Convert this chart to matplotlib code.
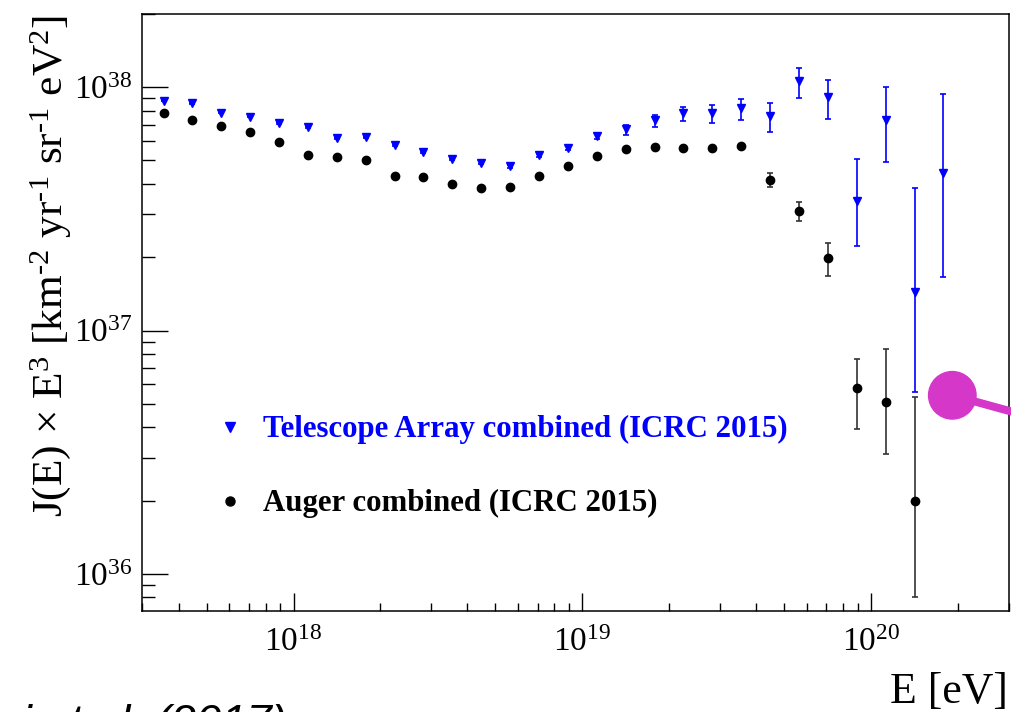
import numpy as np
import matplotlib
matplotlib.use("Agg")
import matplotlib.pyplot as plt
from matplotlib.lines import Line2D
from matplotlib.patches import Ellipse
from matplotlib.ticker import LogLocator, NullFormatter, LogFormatterSciNotation

plt.rcParams["font.family"] = ["Liberation Serif", "DejaVu Serif"]
plt.rcParams["mathtext.fontset"] = "stix"
plt.rcParams["mathtext.default"] = "regular"

# log10(E/eV) bin centres
lg_e_ta = [17.55, 17.65, 17.75, 17.85, 17.95, 18.05, 18.15, 18.25, 18.35, 18.45,
           18.55, 18.65, 18.75, 18.85, 18.95, 19.05, 19.15, 19.25, 19.35, 19.45,
           19.55, 19.65, 19.75, 19.85, 19.95, 20.05, 20.15, 20.25]
lg_e_auger = [17.55, 17.65, 17.75, 17.85, 17.95, 18.05, 18.15, 18.25, 18.35, 18.45,
              18.55, 18.65, 18.75, 18.85, 18.95, 19.05, 19.15, 19.25, 19.35, 19.45,
              19.55, 19.65, 19.75, 19.85, 19.95, 20.05, 20.15]

# J(E) x E^3 in units of 1e37 km^-2 yr^-1 sr^-1 eV^2
ta_flux = [8.81, 8.59, 7.86, 7.55, 7.13, 6.87, 6.17, 6.23, 5.79, 5.42,
           5.06, 4.90, 4.73, 5.25, 5.64, 6.30, 6.74, 7.36, 7.86, 7.86,
           8.22, 7.62, 10.6, 9.12, 3.42, 7.32, 1.44, 4.44]
ta_err_lo = [0.04, 0.04, 0.04, 0.04, 0.04, 0.04, 0.04, 0.04, 0.05, 0.05,
             0.05, 0.06, 0.07, 0.08, 0.10, 0.15, 0.39, 0.47, 0.61, 0.71,
             0.88, 1.07, 1.59, 1.69, 1.19, 2.39, 0.88, 2.78]
ta_err_hi = [0.04, 0.04, 0.04, 0.04, 0.04, 0.04, 0.04, 0.04, 0.05, 0.05,
             0.05, 0.06, 0.07, 0.08, 0.10, 0.15, 0.28, 0.31, 0.42, 0.57,
             0.71, 0.97, 1.44, 1.57, 1.64, 2.68, 2.43, 4.92]

auger_flux = [7.82, 7.36, 6.91, 6.53, 5.94, 5.25, 5.18, 5.04, 4.32, 4.26,
              4.01, 3.87, 3.88, 4.32, 4.73, 5.20, 5.56, 5.67, 5.63, 5.64,
              5.72, 4.17, 3.11, 1.99, 0.579, 0.508, 0.200]
auger_err_lo = [0.03, 0.03, 0.03, 0.03, 0.03, 0.03, 0.03, 0.03, 0.03, 0.03,
                0.03, 0.03, 0.03, 0.03, 0.04, 0.04, 0.05, 0.06, 0.07, 0.08,
                0.12, 0.27, 0.28, 0.31, 0.185, 0.198, 0.1196]
auger_err_hi = [0.03, 0.03, 0.03, 0.03, 0.03, 0.03, 0.03, 0.03, 0.03, 0.03,
                0.03, 0.03, 0.03, 0.03, 0.04, 0.04, 0.05, 0.06, 0.07, 0.08,
                0.12, 0.27, 0.27, 0.31, 0.182, 0.331, 0.334]

label_ta = "Telescope Array combined (ICRC 2015)"
label_auger = "Auger combined (ICRC 2015)"
unit = 1e37

W, H = 1012, 712
fig = plt.figure(figsize=(W / 100, H / 100), dpi=100)
ax = fig.add_axes([142.5 / W, 101 / H, (1009 - 142.5) / W, (611 - 14) / H])

blue = "#0000ff"
dark = "#333333"

e_ta = 10.0 ** np.array(lg_e_ta)
e_au = 10.0 ** np.array(lg_e_auger)
f_ta = np.array(ta_flux) * unit
f_au = np.array(auger_flux) * unit

ax.errorbar(e_ta, f_ta, yerr=[np.array(ta_err_lo) * unit, np.array(ta_err_hi) * unit],
            fmt="none", ecolor=blue, elinewidth=1.2, capsize=2.2, capthick=1.2, zorder=2)
ax.errorbar(e_au, f_au, yerr=[np.array(auger_err_lo) * unit, np.array(auger_err_hi) * unit],
            fmt="none", ecolor=dark, elinewidth=1.2, capsize=2.2, capthick=1.2, zorder=2)
ax.plot(e_ta, f_ta, ls="none", marker="v", ms=6.2, color=blue, mec=blue, zorder=3)
ax.plot(e_au, f_au, ls="none", marker="o", ms=6.0, color="black", mec="black", zorder=3)

ax.set_xscale("log")
ax.set_yscale("log")
ax.set_xlim(3e17, 3e20)
ax.set_ylim(7.03e35, 2.0e38)

ax.xaxis.set_major_locator(LogLocator(base=10, numticks=10))
ax.yaxis.set_major_locator(LogLocator(base=10, numticks=10))
ax.xaxis.set_minor_locator(LogLocator(base=10, subs=np.arange(2, 10), numticks=20))
ax.yaxis.set_minor_locator(LogLocator(base=10, subs=np.arange(2, 10), numticks=20))
ax.xaxis.set_minor_formatter(NullFormatter())
ax.yaxis.set_minor_formatter(NullFormatter())
ax.xaxis.set_major_formatter(LogFormatterSciNotation())
ax.yaxis.set_major_formatter(LogFormatterSciNotation())

ax.tick_params(axis="both", which="both", direction="in", top=False, right=False,
               width=1.0, color="black", labelsize=24)
ax.tick_params(axis="y", which="major", length=18.7, pad=7.5)
ax.tick_params(axis="y", which="minor", length=9.5)
ax.tick_params(axis="x", which="major", length=13, pad=12)
ax.tick_params(axis="x", which="minor", length=6)
for sp in ax.spines.values():
    sp.set_linewidth(1.1)

# axis titles aligned to the axis ends
fig.text(1008 / W, (H - 703) / H, "E [eV]", fontsize=31.5, ha="right", va="baseline")
fig.text(62 / W, (H - 15) / H,
         "J(E) $\\times$ E$^{3}$ [km$^{\u2010 2}$ yr$^{\u2010 1}$ sr$^{\u2010 1}$ eV$^{2}$]",
         fontsize=31.2, rotation=90, ha="right", va="baseline", rotation_mode="anchor")

# legend entries
fig.add_artist(Line2D([230 / W], [(H - 427) / H], marker="v", ms=7, color=blue, ls="none"))
fig.add_artist(Line2D([230 / W], [(H - 501) / H], marker="o", ms=6.5, color="black", ls="none"))
fig.text(262.7 / W, (H - 437.3) / H, label_ta, fontsize=22.2, fontweight="bold",
         color=blue, ha="left", va="baseline")
fig.text(262.7 / W, (H - 510.7) / H, label_auger, fontsize=22.2, fontweight="bold",
         color="black", ha="left", va="baseline")

# pointer marker on the right
magenta = "#D538C8"
fig.add_artist(Line2D([952.3 / W, 1.0], [(H - 395.3) / H, (H - 411.7) / H],
                      color=magenta, lw=5.8, solid_capstyle="butt", zorder=5))
fig.add_artist(Ellipse((952.3 / W, (H - 395.3) / H), 47.5 / W, 47.5 / H,
                       color=magenta, zorder=6))

# citation at the lower left
fig.text(287 / W, (H - 736) / H, "zi et al. (2017)", fontsize=32.7,
         family="Liberation Sans", style="italic", ha="right", va="baseline")

fig.savefig("out.png", dpi=100)
